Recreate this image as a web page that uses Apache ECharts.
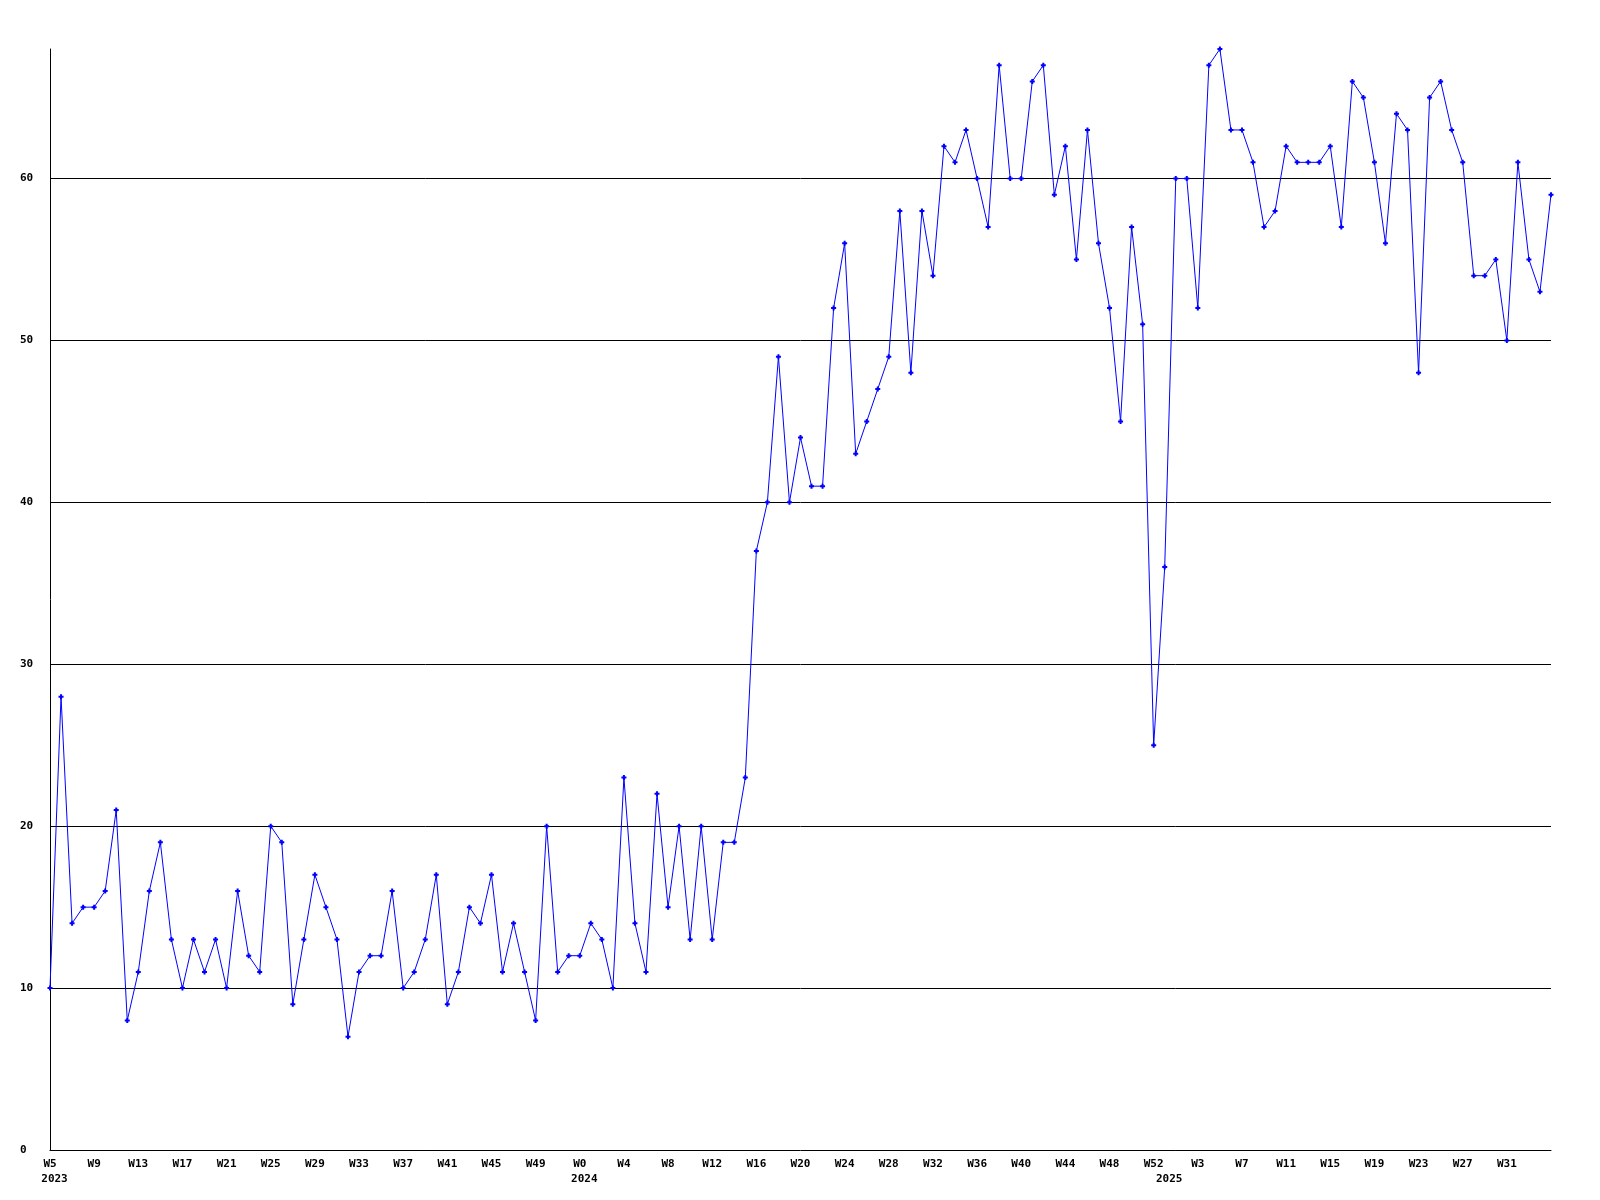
<!DOCTYPE html>
<html>
<head>
<meta charset="utf-8">
<script src="https://cdn.jsdelivr.net/npm/echarts@6/dist/echarts.min.js"></script>
<style>
html,body{margin:0;padding:0;background:#fff;}
#chart{width:1600px;height:1200px;}
</style>
</head>
<body>
<div id="chart"></div>
<script>
// Week categories per year
const weeks2023 = ["W5","W6","W7","W8","W9","W10","W11","W12","W13","W14","W15","W16","W17","W18","W19","W20","W21","W22","W23","W24","W25","W26","W27","W28","W29","W30","W31","W32","W33","W34","W35","W36","W37","W38","W39","W40","W41","W42","W43","W44","W45","W46","W47","W48","W49","W50","W51","W52"];
const weeks2024 = ["W0","W1","W2","W3","W4","W5","W6","W7","W8","W9","W10","W11","W12","W13","W14","W15","W16","W17","W18","W19","W20","W21","W22","W23","W24","W25","W26","W27","W28","W29","W30","W31","W32","W33","W34","W35","W36","W37","W38","W39","W40","W41","W42","W43","W44","W45","W46","W47","W48","W49","W50","W51","W52"];
const weeks2025 = ["W0","W1","W2","W3","W4","W5","W6","W7","W8","W9","W10","W11","W12","W13","W14","W15","W16","W17","W18","W19","W20","W21","W22","W23","W24","W25","W26","W27","W28","W29","W30","W31","W32","W33","W34","W35"];
const years = ["2023","2024","2025"];

// Values per year
const values2023 = [10,28,14,15,15,16,21,8,11,16,19,13,10,13,11,13,10,16,12,11,20,19,9,13,17,15,13,7,11,12,12,16,10,11,13,17,9,11,15,14,17,11,14,11,8,20,11,12];
const values2024 = [12,14,13,10,23,14,11,22,15,20,13,20,13,19,19,23,37,40,49,40,44,41,41,52,56,43,45,47,49,58,48,58,54,62,61,63,60,57,67,60,60,66,67,59,62,55,63,56,52,45,57,51,25];
const values2025 = [36,60,60,52,67,68,63,63,61,57,58,62,61,61,61,62,57,66,65,61,56,64,63,48,65,66,63,61,54,54,55,50,61,55,53,59];

const yTicks = [0,10,20,30,40,50,60];
const yMax = 68;

const weekGroups = [weeks2023, weeks2024, weeks2025];
const categories = [].concat(weeks2023, weeks2024, weeks2025);
const values = [].concat(values2023, values2024, values2025);
const yearCats = [];
weekGroups.forEach((g, gi) => g.forEach((w, i) => yearCats.push(i === 0 ? years[gi] : '')));

const font = '"DejaVu Sans Mono", monospace';
const chart = echarts.init(document.getElementById('chart'), null, {renderer: 'canvas'});
chart.setOption({
  animation: false,
  backgroundColor: '#ffffff',
  grid: {left: 50, right: 49, top: 49, bottom: 50, containLabel: false},
  xAxis: [{
    type: 'category',
    data: categories,
    boundaryGap: false,
    axisLine: {show: true, lineStyle: {color: '#000', width: 1}},
    axisTick: {show: false},
    splitLine: {show: false},
    axisLabel: {
      interval: (i) => i % 4 === 0 && i < categories.length - 1,
      color: '#000', fontFamily: font, fontWeight: 'bold', fontSize: 11,
      margin: 9, align: 'center'
    }
  }, {
    type: 'category',
    data: yearCats,
    boundaryGap: false,
    position: 'bottom',
    axisLine: {show: false},
    axisTick: {show: false},
    splitLine: {show: false},
    axisLabel: {
      interval: (i, v) => v !== '',
      color: '#000', fontFamily: font, fontWeight: 'bold', fontSize: 11,
      margin: 24, align: 'center', padding: [0, 0, 0, 9]
    }
  }],
  yAxis: {
    type: 'value',
    min: 0, max: yMax, interval: 10,
    axisLine: {show: true, lineStyle: {color: '#000', width: 1}},
    axisTick: {show: false},
    splitLine: {show: true, showMaxLine: false, showMinLine: false, lineStyle: {color: '#000', width: 1}},
    axisLabel: {
      showMaxLabel: false,
      formatter: (v) => yTicks.indexOf(v) >= 0 ? String(v) : '',
      color: '#000', fontFamily: font, fontWeight: 'bold', fontSize: 11,
      margin: 30, align: 'left'
    }
  },
  series: [{
    type: 'line',
    xAxisIndex: 0,
    data: values,
    symbol: 'path://M1.5,0H3.5V1.5H5V3.5H3.5V5H1.5V3.5H0V1.5H1.5Z',
    symbolSize: 5,
    showAllSymbol: true,
    itemStyle: {color: '#0000ff'},
    lineStyle: {color: '#0000ff', width: 1},
    emphasis: {disabled: true}
  }]
});
</script>
</body>
</html>
